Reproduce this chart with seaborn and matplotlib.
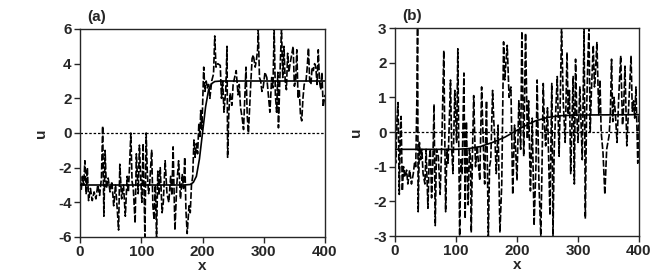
import matplotlib
matplotlib.use("Agg")
import matplotlib.pyplot as plt
import seaborn as sns
import pandas as pd

# ---- data ----
xa = [0,2,4,6,8,10,12,14,17,20,23,26,29,32,35,37,39,41,43,46,49,52,55,58,61,63,65,68,71,74,77,79,81,83,85,87,90,92,95,97,99,101,103,106,108,110,112,114,117,119,121,123,125,127,129,131,134,136,139,142,145,148,150,152,155,158,161,164,167,169,171,173,175,178,180,182,184,186,188,190,192,194,196,197,199,200,202,204,206,208,210,212,215,218,220,222,225,229,231,233,235,238,240,241,243,245,248,250,253,255,258,260,262,265,267,269,271,273,275,277,279,281,283,286,288,290,291,293,295,297,299,302,305,308,310,313,315,317,319,321,323,324,327,329,331,333,335,337,339,341,343,346,348,350,352,354,356,358,360,362,364,366,369,371,373,375,377,379,381,383,385,387,389,391,393,395,397,400]
ua = [-2.3,-3.3,-2.5,-3.0,-1.6,-3.5,-2.0,-3.9,-3.2,-3.9,-3.4,-3.8,-3.0,-3.6,-2.6,0.4,-4.8,-1.0,-3.2,-2.6,-3.4,-2.8,-4.2,-3.0,-4.5,-5.6,-1.8,-3.8,-3.0,-4.8,-2.5,-3.4,-1.8,0.0,-2.8,-3.2,-5.2,-1.2,-3.5,-0.7,-2.5,-4.0,-0.6,-6.0,0.0,-2.4,-3.5,-2.8,-1.0,-4.2,-5.0,-3.0,-6.0,-2.2,-3.6,-2.0,-4.6,-4.0,-1.6,-3.5,-4.0,-2.5,-3.6,-0.8,-5.6,-3.0,-1.6,-3.8,-2.4,-3.2,-1.4,-4.5,-5.8,-4.2,-4.6,-3.0,-2.5,-0.4,-1.4,-0.6,-1.2,0.5,-0.2,1.3,0.2,1.4,3.8,2.4,3.0,2.6,2.8,2.0,3.0,3.4,5.6,3.8,4.0,3.9,2.0,3.0,1.2,2.5,5.0,-1.4,1.2,2.3,1.6,2.8,3.3,3.6,2.2,2.8,1.5,0.8,0.2,2.0,3.8,1.0,0.0,1.5,3.0,4.3,4.5,3.8,4.2,4.8,6.0,3.2,3.0,2.4,2.6,3.5,3.2,2.0,1.2,3.2,2.6,6.0,2.2,1.2,3.5,0.3,4.0,6.0,3.2,5.0,3.0,2.5,4.6,3.5,4.0,4.6,5.0,2.7,3.0,4.8,2.0,2.5,1.0,0.7,2.0,2.8,3.0,3.8,4.9,3.0,2.8,3.8,3.6,4.0,3.8,2.8,4.8,3.0,2.5,3.5,1.5,2.2]

xa_mean = [0,170,180,185,190,195,200,205,210,215,220,230,400]
ua_mean = [-3,-3,-2.97,-2.85,-2.5,-1.5,0,1.5,2.5,2.85,2.97,3,3]

xb = [0,1,3,5,7,9,10,12,14,16,19,21,24,27,30,32,34,36,37,38,40,42,44,46,49,51,54,56,58,60,62,64,66,68,71,74,77,80,83,85,87,89,91,93,95,98,101,103,106,108,110,113,115,117,120,122,124,125,127,129,132,135,137,139,142,145,147,150,153,155,157,160,162,164,166,169,172,175,178,180,181,184,187,190,193,196,200,203,206,208,211,214,217,219,222,225,228,231,233,236,239,241,243,245,247,250,254,257,259,261,263,266,269,271,273,276,279,282,284,286,288,292,294,296,298,300,303,307,310,312,314,316,318,320,322,325,327,328,331,334,336,338,341,344,347,351,353,355,357,359,361,364,367,370,373,375,377,380,384,387,389,391,393,395,398,400]
ub = [0.2,-0.9,0.3,0.85,-1.8,0.2,0.45,-1.7,-1.0,-1.3,-1.1,-1.5,-1.1,-1.5,-1.2,-0.9,-1.0,1.1,3.0,-2.3,-0.3,-0.8,-0.5,-1.2,-1.5,-0.5,-2.2,-0.8,-0.5,-1.9,-0.9,0.8,-2.7,-0.5,-0.7,-1.8,-0.1,2.35,-2.3,-0.5,-0.9,0.3,1.5,-0.5,-1.2,1.2,-0.3,2.4,-3.0,-0.8,-1.2,1.7,-2.5,0.3,-2.1,-0.5,-0.8,-2.9,-0.6,1.05,-1.0,-0.4,-1.0,-1.4,1.3,-0.5,-1.5,0.9,-3.0,-1.0,-0.8,1.2,0.3,-0.3,-1.2,0.2,-2.9,-1.5,2.6,1.5,1.8,2.5,1.0,1.3,-1.8,0.2,-1.4,0.9,-0.5,2.9,-0.7,2.85,-0.2,0.9,-1.7,0.4,-2.7,-1.0,1.5,-1.5,-3.0,-1.0,1.4,0.2,-0.4,0.7,-2.4,1.4,-3.0,-0.5,0.4,1.6,-0.7,1.0,3.0,0.8,-0.3,2.3,0.5,1.2,-1.2,1.6,-1.5,2.1,0.5,-0.3,1.3,-0.8,3.0,-2.5,0.5,2.0,3.0,0.0,1.2,2.5,1.3,1.5,2.6,0.5,1.5,0.0,-0.6,-1.8,-0.5,-0.1,0.5,2.1,0.3,1.0,0.6,-0.3,1.1,2.2,0.2,0.8,1.9,-0.4,1.1,2.2,0.6,0.9,0.4,1.3,-0.9,0.5]

xb_mean = [0,100,120,140,160,180,195,210,230,250,270,300,400]
ub_mean = [-0.5,-0.5,-0.48,-0.42,-0.3,-0.15,0,0.15,0.32,0.42,0.47,0.49,0.5]

panels = ["(a)", "(b)"]
xticks = [0, 100, 200, 300, 400]
yticks_a = [-6, -4, -2, 0, 2, 4, 6]
yticks_b = [-3, -2, -1, 0, 1, 2, 3]

# ---- style ----
sns.set_style("ticks")
plt.rcParams['font.family'] = ['Liberation Sans', 'DejaVu Sans']
plt.rcParams['font.weight'] = 'bold'
plt.rcParams['axes.unicode_minus'] = False

fig = plt.figure(figsize=(6.54, 2.78), dpi=100)
axA = fig.add_axes([80/654, 1-237/278, 245/654, 208/278])
axB = fig.add_axes([395/654, 1-236/278, 244/654, 208/278])

specs = [
    (axA, xa, ua, xa_mean, ua_mean, yticks_a, (-6, 6), panels[0]),
    (axB, xb, ub, xb_mean, ub_mean, yticks_b, (-3, 3), panels[1]),
]

for ax, x, u, xm, um, yt, ylim, lab in specs:
    df = pd.DataFrame({"x": x, "u": u})
    dm = pd.DataFrame({"x": xm, "u": um})
    ax.axhline(0, color="black", lw=0.9, ls=(0, (2, 1.5)), zorder=1)
    sns.lineplot(data=df, x="x", y="u", ax=ax, color="black", lw=1.2,
                 ls=(0, (4, 1.3)), estimator=None, sort=False, zorder=2)
    sns.lineplot(data=dm, x="x", y="u", ax=ax, color="black", lw=1.2,
                 estimator=None, sort=False, zorder=3)
    ax.set_xlim(0, 400)
    ax.set_ylim(*ylim)
    ax.set_xticks(xticks)
    ax.set_yticks(yt)
    ax.set_xticklabels([str(v) for v in xticks], fontsize=11, fontweight='bold')
    ax.set_yticklabels([str(v) for v in yt], fontsize=11, fontweight='bold')
    ax.tick_params(direction='out', length=4, width=1, pad=2)
    for s in ax.spines.values():
        s.set_visible(True)
        s.set_linewidth(1.0)
    ax.set_xlabel("x", fontsize=11, fontweight='bold', labelpad=0)
    ax.set_ylabel("u", fontsize=11, fontweight='bold', labelpad=7)
    ax.text(0.03, 1.025, lab, transform=ax.transAxes, fontsize=11,
            fontweight='bold', ha='left', va='bottom')

fig.savefig("out.png", dpi=100)
